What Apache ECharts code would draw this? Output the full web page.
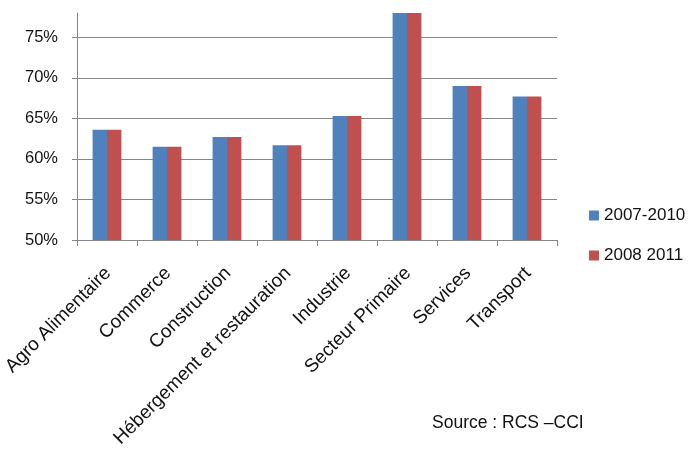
<!DOCTYPE html>
<html>
<head>
<meta charset="utf-8">
<script src="https://cdn.jsdelivr.net/npm/echarts@6/dist/echarts.min.js"></script>
<style>
html,body{margin:0;padding:0;background:#fff;}
#chart{width:697px;height:460px;}
</style>
</head>
<body>
<div id="chart"></div>
<script>
const categories = ["Agro Alimentaire","Commerce","Construction","Hébergement et restauration","Industrie","Secteur Primaire","Services","Transport"];
const seriesNames = ["2007-2010","2008 2011"];
const values2007_2010 = [63.6, 61.5, 62.7, 61.7, 65.3, 78, 69.0, 67.7];
const values2008_2011 = [63.6, 61.5, 62.7, 61.7, 65.3, 78, 69.0, 67.7];
const sourceText = "Source : RCS –CCI";

const FONT = "Liberation Sans";
const chart = echarts.init(document.getElementById('chart'));
chart.setOption({
  animation: false,
  textStyle: {fontFamily: FONT},
  grid: {left: 77, right: 140, top: 13, bottom: 220, containLabel: false, outerBoundsMode: 'none'},
  legend: {
    orient: 'vertical', left: 584, top: 202,
    itemWidth: 10, itemHeight: 10, itemGap: 23,
    icon: 'rect',
    textStyle: {fontFamily: FONT, fontSize: 17, color: '#111'},
    data: seriesNames
  },
  xAxis: {
    type: 'category', data: categories,
    axisLine: {lineStyle: {color: '#868686', width: 1}},
    axisTick: {show: true, length: 6, lineStyle: {color: '#868686'}},
    axisLabel: {rotate: 45, interval: 0, margin: 18, align: 'right', verticalAlign: 'top',
      padding: [0, 8, 0, 0],
      fontFamily: FONT, fontSize: 19, color: '#111'}
  },
  yAxis: {
    type: 'value', min: 50, max: 78, interval: 5,
    axisLine: {show: true, lineStyle: {color: '#868686', width: 1}},
    axisTick: {show: true, length: 5, lineStyle: {color: '#868686'}},
    splitLine: {show: true, showMaxLine: false, lineStyle: {color: '#868686', width: 1}},
    axisLabel: {showMaxLabel: false, margin: 19, fontFamily: FONT, fontSize: 16.5, color: '#111',
      formatter: v => (v % 5 === 0 ? v + '%' : '')}
  },
  series: [
    {name: seriesNames[0], type: 'bar', data: values2007_2010, barGap: '0%', barCategoryGap: '52%',
     itemStyle: {color: '#4F81BD'}},
    {name: seriesNames[1], type: 'bar', data: values2008_2011, barGap: '0%', barCategoryGap: '52%',
     itemStyle: {color: '#C0504D'}}
  ],
  graphic: [{
    type: 'text', left: 432, top: 414,
    style: {text: sourceText, fontFamily: FONT, fontSize: 17.5, fill: '#111'}
  }]
});
</script>
</body>
</html>
